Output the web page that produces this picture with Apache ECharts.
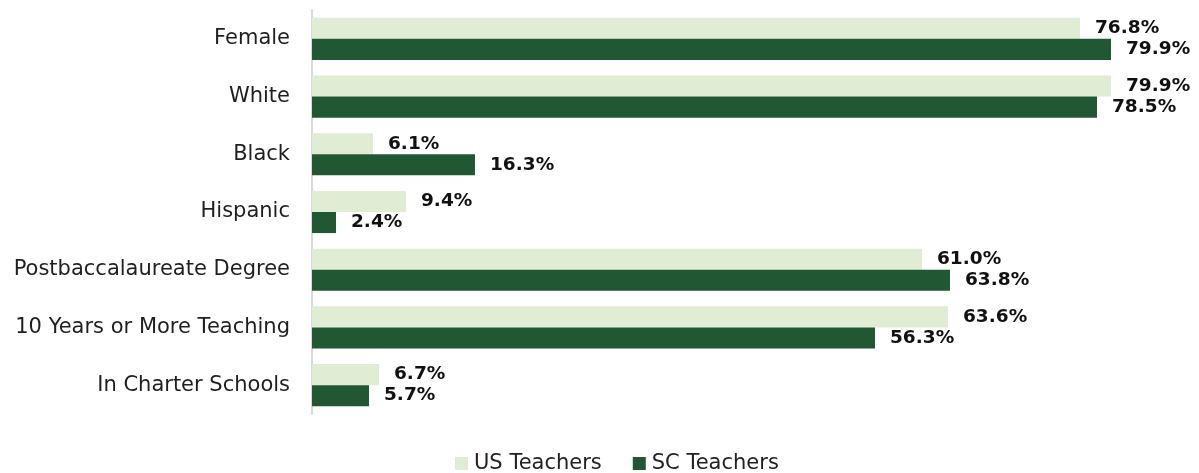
<!DOCTYPE html>
<html>
<head>
<meta charset="utf-8">
<script src="https://cdn.jsdelivr.net/npm/echarts@6/dist/echarts.min.js"></script>
<style>
  html, body { margin: 0; padding: 0; background: #fff; }
  #chart { width: 1199px; height: 473px; }
</style>
</head>
<body>
<div id="chart"></div>
<script>
const categories = ['Female', 'White', 'Black', 'Hispanic', 'Postbaccalaureate Degree', '10 Years or More Teaching', 'In Charter Schools']
const usTeachers = [76.8, 79.9, 6.1, 9.4, 61.0, 63.6, 6.7]
const scTeachers = [79.9, 78.5, 16.3, 2.4, 63.8, 56.3, 5.7]

const fontFamily = '"DejaVu Sans", sans-serif'

const pctLabel = {
  show: true,
  position: 'right',
  distance: 15,
  fontFamily: fontFamily,
  fontWeight: 'bold',
  fontSize: 18.5,
  color: '#111',
  formatter: function (p) { return p.value.toFixed(1) + '%' }
}

let myChart = echarts.init(document.getElementById('chart'))
let option = {
  animation: false,
  textStyle: { fontFamily: fontFamily },
  legend: {
    bottom: -6,
    left: 450,
    itemWidth: 13,
    itemHeight: 13,
    itemGap: 31,
    icon: 'rect',
    textStyle: { fontSize: 21, color: '#222', fontFamily: fontFamily, padding: [0, 0, 0, 1] },
    data: ['US Teachers', 'SC Teachers']
  },
  grid: {
    left: 312,
    right: 87,
    top: 10,
    bottom: 59
  },
  xAxis: {
    type: 'value',
    min: 0,
    max: 80,
    show: false
  },
  yAxis: {
    type: 'category',
    inverse: true,
    data: categories,
    axisLine: { show: true, lineStyle: { color: '#d9d9d9', width: 2 } },
    axisTick: { show: false },
    axisLabel: { margin: 22, fontSize: 21, color: '#1f1f1f', fontFamily: fontFamily }
  },
  series: [
    {
      name: 'US Teachers',
      type: 'bar',
      data: usTeachers,
      barGap: '0%',
      barCategoryGap: '27%',
      itemStyle: { color: '#e1ecd5' },
      label: pctLabel
    },
    {
      name: 'SC Teachers',
      type: 'bar',
      data: scTeachers,
      barGap: '0%',
      barCategoryGap: '27%',
      itemStyle: { color: '#215732' },
      label: pctLabel
    }
  ]
}
myChart.setOption(option)
</script>
</body>
</html>
